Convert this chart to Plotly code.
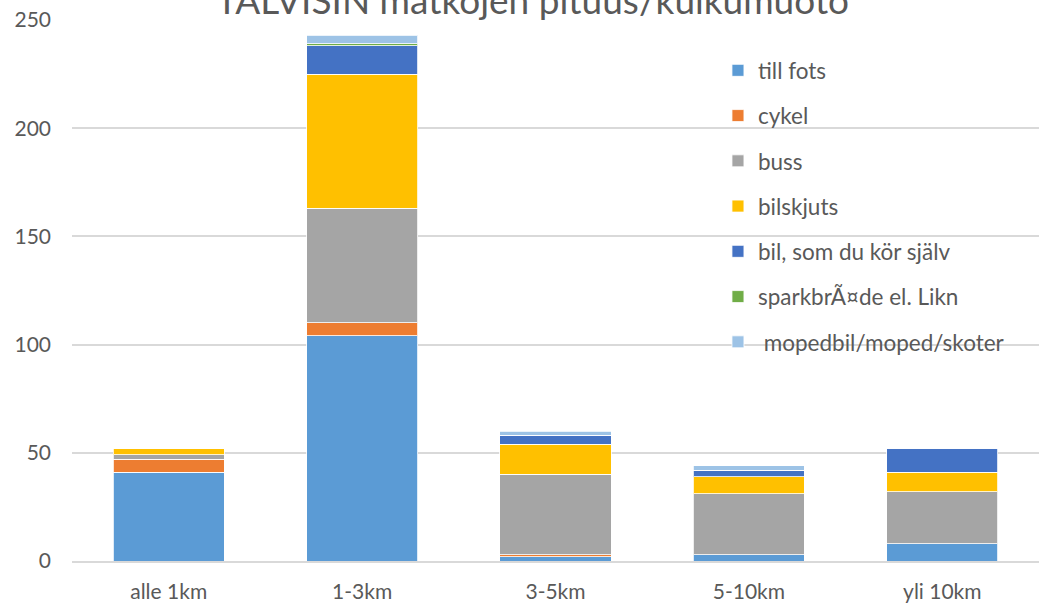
import plotly.graph_objects as go

categories = ["alle 1km", "1-3km", "3-5km", "5-10km", "yli 10km"]

till_fots = [41, 104, 2, 3, 8]
cykel = [6, 6, 1, 0, 0]
buss = [2, 53, 37, 28, 24]
bilskjuts = [3, 62, 14, 8, 9]
bil_sjalv = [0, 13, 4, 3, 11]
sparkbrade = [0, 1, 0, 0, 0]
moped = [0, 4, 2, 2, 0]

series_names = ["till fots", "cykel", "buss", "bilskjuts", "bil, som du kör själv",
                "sparkbrÃ¤de el. Likn", " mopedbil/moped/skoter"]
series_values = [till_fots, cykel, buss, bilskjuts, bil_sjalv, sparkbrade, moped]
colors = ["#5B9BD5", "#ED7D31", "#A5A5A5", "#FFC000", "#4472C4", "#70AD47", "#9DC3E6"]

title_text = "TALVISIN matkojen pituus/kulkumuoto"
y_ticks = [0, 50, 100, 150, 200, 250]

fig = go.Figure()
for i, (name, vals, col) in enumerate(zip(series_names, series_values, colors)):
    fig.add_trace(go.Bar(
        x=categories, y=vals, name=name, legendgroup=f"g{i}",
        marker=dict(color=col, line=dict(color="rgba(255,255,255,0.8)", width=1)),
    ))

font_family = "Lato, 'Open Sans', sans-serif"
fig.update_layout(
    barmode="stack",
    bargap=0.426,
    width=1039, height=604,
    margin=dict(l=72, r=0, t=20, b=43),
    paper_bgcolor="white", plot_bgcolor="white",
    font=dict(family=font_family, color="#595959", size=20),
    showlegend=True,
    legend=dict(
        x=0.668, y=0.946, xanchor="left", yanchor="top",
        traceorder="grouped", tracegroupgap=13,
        font=dict(size=22.5, color="#595959"),
        bgcolor="rgba(0,0,0,0)",
    ),
    xaxis=dict(showgrid=False, showline=True, linecolor="#D9D9D9", linewidth=1.5,
               ticks="", ticklabelstandoff=11, tickfont=dict(size=21, color="#595959")),
    yaxis=dict(range=[0, 250], tickvals=y_ticks, showgrid=True, gridcolor="#D9D9D9",
               gridwidth=1.5, zeroline=False, showline=False, ticks="",
               ticklabelstandoff=20, tickfont=dict(size=21, color="#595959")),
    annotations=[dict(
        text=title_text, xref="paper", yref="paper", x=0.476, y=1.0,
        xanchor="center", yanchor="bottom", yshift=-4, showarrow=False,
        font=dict(size=37, color="#595959", family=font_family),
    )],
)

fig.write_html("out.html", config={"displayModeBar": False},
               post_script="document.body.style.margin='0';document.body.style.padding='0';")
